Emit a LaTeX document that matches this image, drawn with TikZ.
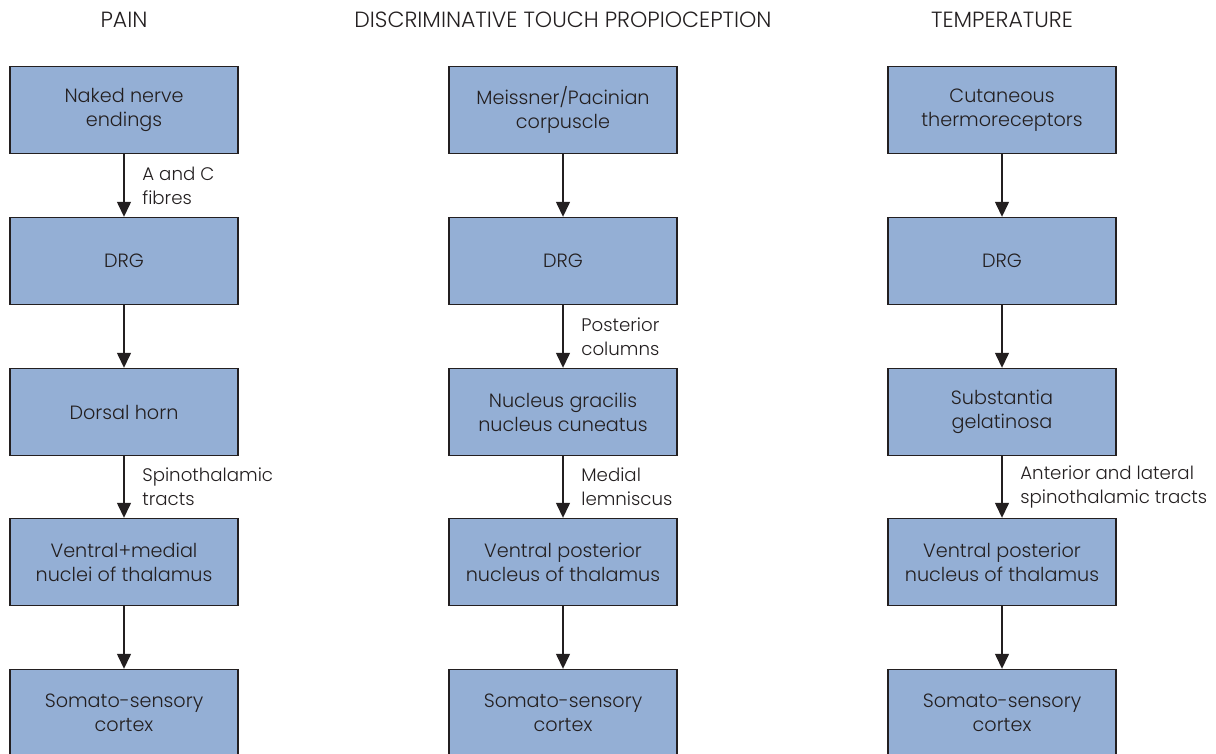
\documentclass[tikz,border=0pt]{standalone}
\usepackage{fontspec}
\setmainfont{Poppins}[UprightFont=* Light]
\usetikzlibrary{arrows.meta}
\definecolor{boxblue}{RGB}{148,175,213}
\definecolor{inkgray}{RGB}{35,31,32}
\begin{document}
\begin{tikzpicture}[x=0.5pt, y=-0.5pt, font=\fontsize{9.6}{12}\selectfont, color=inkgray,
        title/.style={font=\fontsize{11}{13}\selectfont},
        box/.style={draw=inkgray, line width=0.7pt, fill=boxblue, minimum width=114pt, minimum height=43.5pt, align=center, inner sep=0pt},
        flow/.style={-{Triangle[width=7pt,length=7.5pt]}, line width=0.7pt},
        lab/.style={right, align=left, xshift=5.5pt, font=\fontsize{9.1}{12}\selectfont}]
        \useasboundingbox (0,0) rectangle (1216,754);
        % column titles
        \node[title] (tpain) at (124,20) {PAIN};
        \node[title] (ttouch) at (563,20) {DISCRIMINATIVE TOUCH PROPIOCEPTION};
        \node[title] (ttemp) at (1002,20) {TEMPERATURE};
        % pain
        \node[box] (pa1) at (124,110) {Naked nerve\\endings};
        \node[box] (pa2) at (124,261) {DRG};
        \node[box] (pa3) at (124,412) {Dorsal horn};
        \node[box] (pa4) at (124,562) {Ventral+medial\\nuclei of thalamus};
        \node[box] (pa5) at (124,713) {Somato-sensory\\cortex};
        \draw[flow] (pa1) -- node[lab]{A and C\\fibres} (pa2);
        \draw[flow] (pa2) -- (pa3);
        \draw[flow] (pa3) -- node[lab]{Spinothalamic\\tracts} (pa4);
        \draw[flow] (pa4) -- (pa5);
        % discriminative touch
        \node[box] (to1) at (563,110) {Meissner/Pacinian\\corpuscle};
        \node[box] (to2) at (563,261) {DRG};
        \node[box] (to3) at (563,412) {Nucleus gracilis\\nucleus cuneatus};
        \node[box] (to4) at (563,562) {Ventral posterior\\nucleus of thalamus};
        \node[box] (to5) at (563,713) {Somato-sensory\\cortex};
        \draw[flow] (to1) -- (to2);
        \draw[flow] (to2) -- node[lab]{Posterior\\columns} (to3);
        \draw[flow] (to3) -- node[lab]{Medial\\lemniscus} (to4);
        \draw[flow] (to4) -- (to5);
        % temperature
        \node[box] (te1) at (1002,110) {Cutaneous\\thermoreceptors};
        \node[box] (te2) at (1002,261) {DRG};
        \node[box] (te3) at (1002,412) {Substantia\\gelatinosa};
        \node[box] (te4) at (1002,562) {Ventral posterior\\nucleus of thalamus};
        \node[box] (te5) at (1002,713) {Somato-sensory\\cortex};
        \draw[flow] (te1) -- (te2);
        \draw[flow] (te2) -- (te3);
        \draw[flow] (te3) -- node[lab]{Anterior and lateral\\spinothalamic tracts} (te4);
        \draw[flow] (te4) -- (te5);
\end{tikzpicture}
\end{document}
